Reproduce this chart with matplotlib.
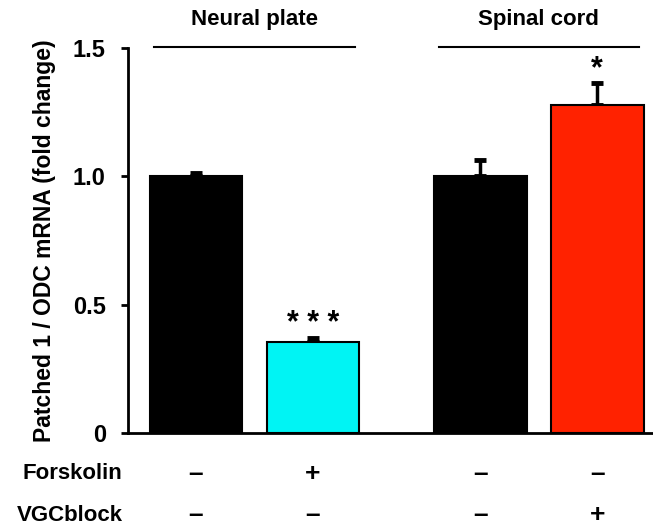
import matplotlib
matplotlib.use('Agg')
import matplotlib.pyplot as plt
from matplotlib.transforms import blended_transform_factory

plt.rcParams['font.family'] = ['Liberation Sans', 'DejaVu Sans']
plt.rcParams['font.weight'] = 'bold'
plt.rcParams['axes.labelweight'] = 'bold'

# data
groups = ['Neural plate', 'Spinal cord']
positions = [0, 1, 2.43, 3.43]
values = [1.0, 0.355, 1.0, 1.276]
errors = [0.012, 0.015, 0.062, 0.086]
colors = ['black', '#00f4f4', 'black', '#ff2200']
stars = ['', '* * *', '', '*']
forskolin = ['–', '+', '–', '–']
vgcblock = ['–', '–', '–', '+']
yticks = [0, 0.5, 1.0, 1.5]
yticklabels = ['0', '0.5', '1.0', '1.5']
width = 0.79

fig = plt.figure(figsize=(6.53, 5.29), dpi=100)
ax = fig.add_axes([128 / 653, 96 / 529, 525 / 653, 385 / 529])

ax.bar(positions, values, width=width, color=colors, edgecolor='black', linewidth=1.5, zorder=2)
ax.errorbar(positions, values, yerr=[[0] * 4, errors], fmt='none', ecolor='black',
            elinewidth=2.5, capsize=4, capthick=3.5, zorder=1)

for x, v, e, s in zip(positions, values, errors, stars):
    if s:
        ax.text(x, v + e - 0.005, s, ha='center', va='bottom', fontsize=22)

ax.set_xlim(-0.581, 3.906)
ax.set_ylim(0, 1.5)
ax.set_yticks(yticks)
ax.set_yticklabels(yticklabels)
ax.set_xticks([])
ax.tick_params(axis='y', direction='out', length=5, width=2, pad=11, labelsize=17)
for side in ['top', 'right']:
    ax.spines[side].set_visible(False)
ax.spines['left'].set_linewidth(2)
ax.spines['bottom'].set_linewidth(2)
ax.set_ylabel('Patched 1 / ODC mRNA (fold change)', fontsize=16.5, fontweight='bold', labelpad=12)

# group headers with lines
for i, name in enumerate(groups):
    x0 = positions[2 * i] - width / 2 + 0.04
    x1 = positions[2 * i + 1] + width / 2 - 0.04
    ax.plot([x0, x1], [1.505, 1.505], color='black', lw=1.5, clip_on=False)
    ax.text((x0 + x1) / 2, 1.61, name, ha='center', va='center', fontsize=16)

# treatment rows
trans = blended_transform_factory(ax.transData, ax.transAxes)
rows = [('Forskolin', forskolin, -0.106), ('VGCblock', vgcblock, -0.213)]
for label, signs, yy in rows:
    ax.text(-0.01, yy, label, transform=ax.transAxes, ha='right', va='center', fontsize=16)
    for x, s in zip(positions, signs):
        ax.text(x, yy, s, transform=trans, ha='center', va='center', fontsize=19)

fig.savefig('out.png', dpi=100)
